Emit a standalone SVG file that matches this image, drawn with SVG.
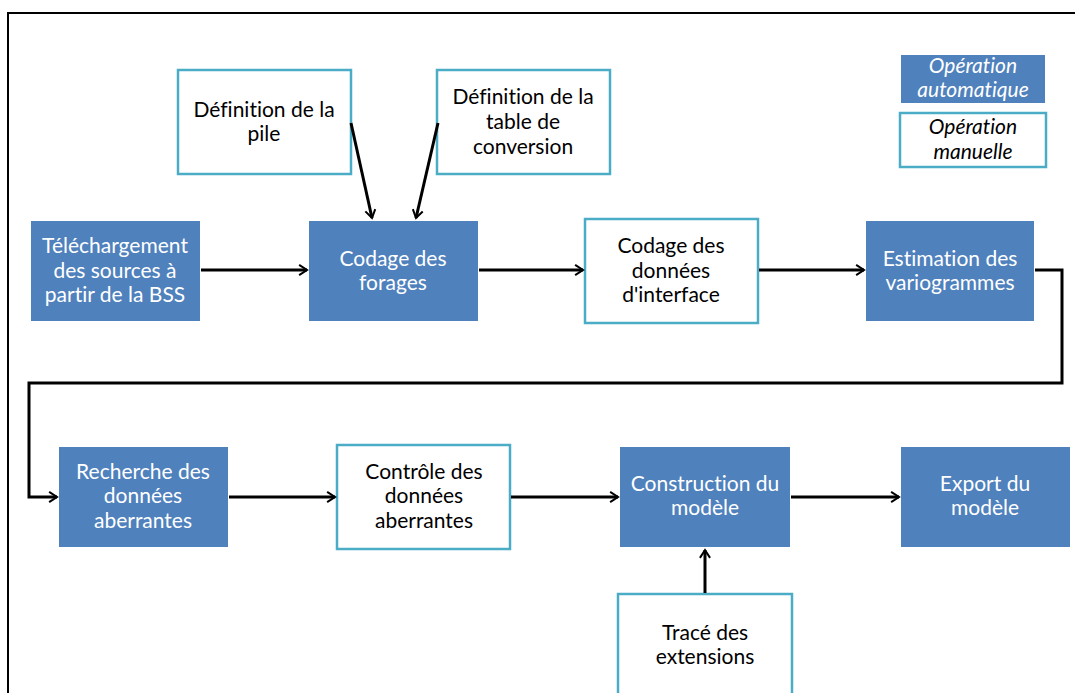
<svg xmlns="http://www.w3.org/2000/svg" width="1075" height="693" viewBox="0 0 1075 693">
<defs>
<marker id="arr" viewBox="0 0 12 12" refX="10" refY="6" markerWidth="4.5" markerHeight="4.5" markerUnits="strokeWidth" orient="auto">
<path d="M3,1.5 L10,6 L3,10.5" fill="none" stroke="#000" stroke-width="1.8"/>
</marker>
</defs>
<style>
.auto{fill:#4F81BD;stroke:none}
.man{fill:#fff;stroke:#4BACC6;stroke-width:2.5}
text{font-family:Lato,"Liberation Sans",sans-serif;font-size:21px;text-anchor:middle;font-variant-ligatures:none;font-feature-settings:"liga" 0}
.w{fill:#fff}
.k{fill:#000}
.it{font-style:italic}
.c{fill:none;stroke:#000;stroke-width:3}
</style>
<rect x="8" y="13" width="1080" height="700" fill="none" stroke="#000" stroke-width="2"/>
<g id="legend-auto"><rect class="auto" x="901" y="55" width="144" height="48"/><text class="w it" x="973" y="73">Opération</text><text class="w it" x="973" y="97">automatique</text></g>
<g id="legend-manuel"><rect class="man" x="900" y="113" width="146" height="54"/><text class="k it" x="973" y="134">Opération</text><text class="k it" x="973" y="159">manuelle</text></g>
<g id="pile"><rect class="man" x="178" y="70" width="173" height="104"/><text class="k" x="264" y="117">Définition de la</text><text class="k" x="264" y="141">pile</text></g>
<g id="table"><rect class="man" x="437" y="70" width="173" height="104"/><text class="k" x="523" y="104">Définition de la</text><text class="k" x="523" y="129">table de</text><text class="k" x="523" y="154">conversion</text></g>
<g id="telechargement"><rect class="auto" x="31" y="221" width="169" height="100"/><text class="w" x="115" y="253">Téléchargement</text><text class="w" x="115" y="278">des sources à</text><text class="w" x="115" y="302">partir de la BSS</text></g>
<g id="codage-forages"><rect class="auto" x="309" y="221" width="169" height="100"/><text class="w" x="393" y="266">Codage des</text><text class="w" x="393" y="290">forages</text></g>
<g id="codage-interface"><rect class="man" x="585" y="219" width="173" height="104"/><text class="k" x="671" y="253">Codage des</text><text class="k" x="671" y="278">données</text><text class="k" x="671" y="302">d'interface</text></g>
<g id="estimation"><rect class="auto" x="866" y="221" width="168" height="100"/><text class="w" x="950" y="266">Estimation des</text><text class="w" x="950" y="290">variogrammes</text></g>
<g id="recherche"><rect class="auto" x="59" y="447" width="169" height="100"/><text class="w" x="143" y="479">Recherche des</text><text class="w" x="143" y="503">données</text><text class="w" x="143" y="528">aberrantes</text></g>
<g id="controle"><rect class="man" x="337" y="445" width="173" height="104"/><text class="k" x="424" y="479">Contrôle des</text><text class="k" x="424" y="503">données</text><text class="k" x="424" y="528">aberrantes</text></g>
<g id="construction"><rect class="auto" x="620" y="447" width="170" height="100"/><text class="w" x="705" y="491">Construction du</text><text class="w" x="705" y="515">modèle</text></g>
<g id="export"><rect class="auto" x="901" y="447" width="169" height="100"/><text class="w" x="985" y="491">Export du</text><text class="w" x="985" y="515">modèle</text></g>
<g id="trace"><rect class="man" x="618" y="594" width="174" height="110"/><text class="k" x="705" y="640">Tracé des</text><text class="k" x="705" y="664">extensions</text></g>
<g id="connectors">
<line class="c" x1="351" y1="123" x2="372" y2="218" marker-end="url(#arr)"/>
<line class="c" x1="438" y1="123" x2="416" y2="218" marker-end="url(#arr)"/>
<line class="c" x1="201" y1="270" x2="307" y2="270" marker-end="url(#arr)"/>
<line class="c" x1="479" y1="270" x2="583" y2="270" marker-end="url(#arr)"/>
<line class="c" x1="759" y1="270" x2="864" y2="270" marker-end="url(#arr)"/>
<polyline class="c" points="1035,270 1062,270 1062,383 29,383 29,497 57,497" marker-end="url(#arr)"/>
<line class="c" x1="229" y1="497" x2="335" y2="497" marker-end="url(#arr)"/>
<line class="c" x1="511" y1="497" x2="618" y2="497" marker-end="url(#arr)"/>
<line class="c" x1="791" y1="497" x2="899" y2="497" marker-end="url(#arr)"/>
<line class="c" x1="705" y1="593" x2="705" y2="550" marker-end="url(#arr)"/>
</g>
</svg>
